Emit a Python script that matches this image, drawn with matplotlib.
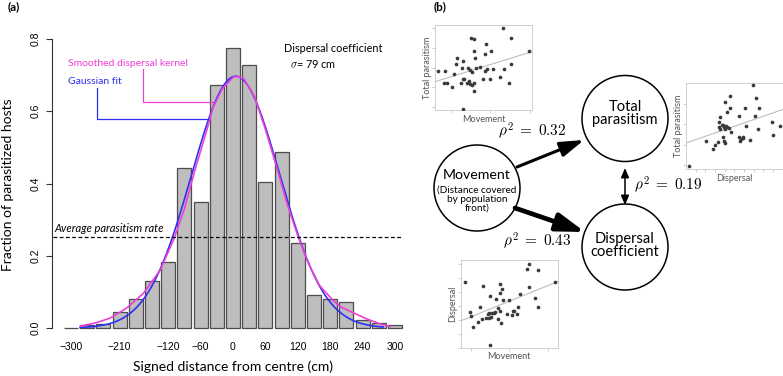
import numpy as np
import matplotlib
matplotlib.use("Agg")
import matplotlib.pyplot as plt
from matplotlib.patches import Circle, FancyArrowPatch

plt.rcParams['font.family'] = ['Lato', 'DejaVu Sans']
plt.rcParams['mathtext.fontset'] = 'cm'

# ---- panel (a) data: histogram of parasitized fraction by distance bin
bin_centres = [-300, -270, -240, -210, -180, -150, -120, -90, -60, -30, 0,
               30, 60, 90, 120, 150, 180, 210, 240, 270, 300]
bin_fraction = [0.001, 0.007, 0.010, 0.045, 0.079, 0.130, 0.183, 0.442, 0.350, 0.672, 0.774,
                0.728, 0.404, 0.487, 0.234, 0.090, 0.079, 0.072, 0.021, 0.015, 0.007]

# gaussian fit parameters
gauss_mu = 5
gauss_sigma = 82
gauss_peak = 0.697
gauss_range = (-283, 278)

# smoothed dispersal kernel
kernel_x = [-283, -255, -228, -197, -166, -135, -110, -90, -70, -50, -37, -20, 0, 8, 20,
            40, 60, 80, 100, 120, 140, 160, 185, 200, 223, 245, 260, 275, 291]
kernel_y = [0.005, 0.014, 0.027, 0.055, 0.096, 0.160, 0.244, 0.330, 0.440, 0.540, 0.610, 0.662,
            0.694, 0.697, 0.690, 0.640, 0.550, 0.450, 0.345, 0.255, 0.178, 0.118, 0.077,
            0.058, 0.042, 0.027, 0.018, 0.010, 0.004]

avg_rate = 0.253
xtick_vals = [-300, -210, -120, -60, 0, 60, 120, 180, 240, 300]
ytick_vals = [0.0, 0.2, 0.4, 0.6, 0.8]

# ---- panel (b) scatter insets (arbitrary units, 0-10)
mov1 = [0.34, 1.03, 0.93, 1.28, 1.72, 2.0, 2.14, 2.24, 2.69, 2.83, 2.9, 2.86, 3.03, 3.28, 3.38,
        3.55, 3.62, 3.62, 3.72, 3.79, 3.86, 3.97, 3.97, 4.03, 4.07, 4.14, 4.21, 4.66, 4.9, 5.17,
        5.28, 5.17, 5.34, 5.69, 5.79, 6.03, 6.72, 7.0, 7.07, 7.59, 7.86, 7.86, 9.66, 2.86]
par1 = [4.63, 4.63, 3.22, 3.22, 2.75, 4.2, 5.37, 6.08, 3.22, 4.9, 5.8, 3.65, 3.65, 3.22, 4.9,
        3.45, 4.7, 3.06, 8.51, 4.51, 2.94, 8.31, 6.98, 2.24, 3.22, 6.08, 4.98, 5.1, 3.65, 4.59,
        7.73, 6.55, 4.78, 3.65, 6.98, 4.82, 3.84, 9.61, 4.82, 3.22, 8.43, 5.37, 6.98, 0.08]
fit1 = (3.33, 0.353)

disp2 = [0.28, 2.1, 2.79, 3.03, 3.28, 3.38, 3.38, 3.55, 3.55, 3.72, 3.79, 3.83, 3.9, 3.9, 4.0,
         4.07, 4.07, 4.17, 4.24, 4.28, 4.41, 4.52, 4.59, 4.69, 5.45, 5.52, 5.62, 5.69, 5.9, 6.14,
         6.24, 6.66, 6.93, 7.1, 7.28, 7.45, 7.52, 8.9, 8.97, 9.69, 5.9]
par2 = [0.27, 3.27, 2.33, 2.8, 3.07, 4.82, 5.41, 5.99, 4.63, 5.14, 5.14, 3.66, 3.19, 4.86, 4.63,
        7.78, 3.0, 5.02, 6.61, 4.82, 4.75, 8.52, 7.08, 4.28, 6.19, 3.66, 3.27, 3.46, 3.74, 7.08,
        4.94, 3.31, 9.73, 6.11, 8.25, 4.67, 7.08, 5.41, 3.97, 4.94, 3.58]
fit2 = (3.0, 0.389)

mov3 = [0.38, 0.97, 1.03, 1.24, 1.76, 2.0, 2.17, 2.24, 2.62, 2.79, 2.86, 2.93, 2.97, 3.03, 3.1,
        3.21, 3.38, 3.55, 3.66, 3.79, 3.83, 4.0, 4.07, 4.07, 4.14, 4.24, 4.31, 4.76, 5.0, 5.28,
        5.34, 5.45, 5.79, 5.9, 6.14, 6.83, 7.07, 7.07, 7.69, 7.93, 7.93, 9.76]
disp3 = [7.44, 4.01, 3.63, 2.37, 2.94, 4.66, 3.28, 7.06, 3.4, 3.82, 3.32, 3.89, 0.27, 5.88, 3.51,
         3.97, 3.89, 4.01, 5.5, 3.24, 4.47, 6.26, 7.21, 4.16, 2.75, 6.64, 5.42, 3.78, 5.46, 3.74,
         4.12, 4.2, 3.78, 4.58, 6.11, 8.93, 9.54, 6.87, 5.69, 8.85, 4.58, 7.44]
fit3 = (3.05, 0.447)

rho_labels = [r'$\rho^2 \;=\; 0.32$', r'$\rho^2 \;=\; 0.19$', r'$\rho^2 \;=\; 0.43$']

MAGENTA = '#EE3FD6'
BLUE = '#2F2FF5'

W, H = 783, 376
fig = plt.figure(figsize=(W / 100, H / 100), dpi=100)


def fig_rect(left, top, right, bottom):
    # pixel box -> figure fraction
    return [left / W, (H - bottom) / H, (right - left) / W, (bottom - top) / H]


# ---------------- panel (a)
ax = fig.add_axes(fig_rect(52, 30, 410, 335))
ax.bar(bin_centres, bin_fraction, width=26, color='#BEBEBE', edgecolor='#4D4D4D', linewidth=0.9)
gx = np.linspace(gauss_range[0], gauss_range[1], 300)
ax.plot(gx, gauss_peak * np.exp(-(gx - gauss_mu) ** 2 / (2 * gauss_sigma ** 2)), color=BLUE, lw=1.2)
ax.plot(kernel_x, kernel_y, color=MAGENTA, lw=1.2)
ax.plot([-333, 313], [avg_rate, avg_rate], color='black', lw=0.9, ls=(0, (3, 2)), clip_on=False)

ax.set_xlim(-335.2, 327.8)
ax.set_ylim(-0.0194, 0.825)
for s in ['top', 'right', 'bottom']:
    ax.spines[s].set_visible(False)
ax.spines['left'].set_bounds(0, 0.8)
ax.spines['left'].set_color('#333333')
ax.set_xticks(xtick_vals, [str(v).replace('-', '\u2212') for v in xtick_vals],
              family=['Liberation Sans'], fontsize=7.5)
ax.tick_params(axis='x', length=0, pad=5)
ax.set_yticks(ytick_vals, ['%.1f' % v for v in ytick_vals], family=['Liberation Sans'],
              fontsize=7.5, rotation=90, va='center')
ax.tick_params(axis='y', length=4, pad=4, color='#333333')

# ---------------- overlay in pixel coordinates for texts and the diagram
ov = fig.add_axes([0, 0, 1, 1], facecolor='none')
ov.set_xlim(0, W)
ov.set_ylim(H, 0)
ov.axis('off')

ov.text(8, 7, '(a)', fontsize=8.5, fontweight='bold', va='center')
ov.text(434, 7, '(b)', fontsize=8.5, fontweight='bold', va='center')
ov.text(8, 185, 'Fraction of parasitized hosts', rotation=90, ha='center', va='center', fontsize=10)
ov.text(233, 367, 'Signed distance from centre (cm)', ha='center', va='center', fontsize=10)
ov.text(284, 48, 'Dispersal coefficient', va='center', fontsize=7.8)
ov.text(290, 64, r'$\sigma$= 79 cm', va='center', fontsize=7.8)
ov.text(68, 64, 'Smoothed dispersal kernel', color=MAGENTA, va='center', fontsize=7.5)
ov.text(68, 81, 'Gaussian fit', color=BLUE, va='center', fontsize=7.5)
ov.text(54, 229, 'Average parasitism rate', style='italic', va='center', fontsize=8)
ov.plot([142.7, 142.7, 213], [69, 102, 102], color=MAGENTA, lw=0.9)
ov.plot([96.7, 96.7, 208], [88, 119.3, 119.3], color=BLUE, lw=0.9)

# diagram nodes
nodes = {'mov': (477, 188), 'tot': (625, 118.5), 'disp': (625, 247)}
for key, (cx, cy) in nodes.items():
    ov.add_patch(Circle((cx, cy), 43, facecolor='white', edgecolor='black', lw=1.1, zorder=2))
ov.text(477, 175, 'Movement', ha='center', va='center', fontsize=10.2, zorder=3)
ov.text(477, 199, '(Distance covered\nby population\nfront)', ha='center', va='center',
        fontsize=7.2, linespacing=0.95, zorder=3)
ov.text(625, 113.5, 'Total\nparasitism', ha='center', va='center', fontsize=10.5,
        linespacing=0.9, zorder=3)
ov.text(625, 245.5, 'Dispersal\ncoefficient', ha='center', va='center', fontsize=10.5,
        linespacing=0.9, zorder=3)

ov.add_patch(FancyArrowPatch((517, 167), (584, 140), arrowstyle='-|>,head_length=1.2,head_width=0.38',
                             mutation_scale=12, color='black', lw=2.2, shrinkA=0, shrinkB=0, zorder=3))
ov.add_patch(FancyArrowPatch((515, 208), (585, 232), arrowstyle='-|>,head_length=1.3,head_width=0.42',
                             mutation_scale=13, color='black', lw=3.4, shrinkA=0, shrinkB=0, zorder=3))
ov.add_patch(FancyArrowPatch((625, 168), (625, 205), arrowstyle='<|-|>,head_length=0.7,head_width=0.3',
                             mutation_scale=8, color='black', lw=1.1, shrinkA=0, shrinkB=0, zorder=3))

ov.text(532, 131, rho_labels[0], ha='center', va='center', fontsize=11)
ov.text(668, 185, rho_labels[1], ha='center', va='center', fontsize=11)
ov.text(537, 241, rho_labels[2], ha='center', va='center', fontsize=11)


# ---------------- scatter insets
def inset(rect, xs, ys, fit, xlabel, ylabel, xticks, yticks):
    a = fig.add_axes(rect)
    a.scatter(xs, ys, s=7, color='#3A3A3A', linewidths=0, zorder=3)
    lx = np.array([0, 10])
    a.plot(lx, fit[0] + fit[1] * lx, color='#BDBDBD', lw=0.8)
    a.set_xlim(0, 10)
    a.set_ylim(0, 10)
    a.set_xticks(xticks)
    a.set_yticks(yticks)
    a.tick_params(length=2, width=0.5, color='#BBBBBB', labelbottom=False, labelleft=False)
    for s in a.spines.values():
        s.set_color('#C8C8C8')
        s.set_linewidth(0.6)
    a.set_xlabel(xlabel, fontsize=6.5, color='#555555', labelpad=1.5)
    a.set_ylabel(ylabel, fontsize=6.5, color='#555555', labelpad=0.5)
    return a


inset(fig_rect(435, 25, 532, 110), mov1, par1, fit1, 'Movement', 'Total parasitism',
      [1.72, 5.69, 9.83], [0.3, 2.65, 5.0, 7.35, 9.7])
inset(fig_rect(686, 83, 782.5, 168.7), disp2, par2, fit2, 'Dispersal', 'Total parasitism',
      list(range(1, 11)), [0.4, 2.8, 5.2, 7.6])
inset(fig_rect(461, 260, 557.5, 347.5), mov3, disp3, fit3, 'Movement', 'Dispersal',
      [1.0, 5.0, 9.0], [0, 1.6, 3.2, 4.8, 6.4, 8.0, 9.6])

fig.savefig('out.png', dpi=100)
